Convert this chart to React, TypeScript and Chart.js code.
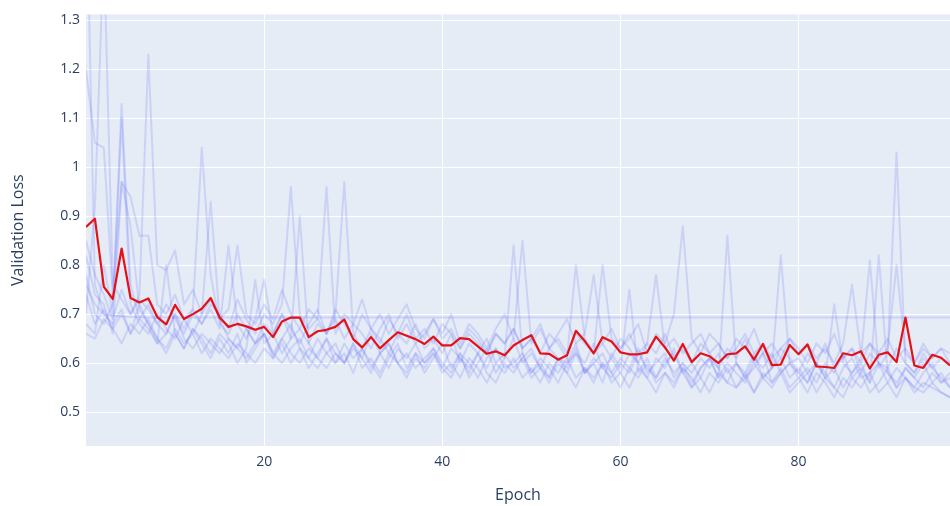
import React, { useEffect, useRef } from "react";
import { Chart, registerables } from "chart.js";

Chart.register(...registerables);

// Epoch index for each logged validation step
const EPOCHS = Array.from({ length: 98 }, (_, i) => i);

// Mean validation loss across the cross-validation runs
const MEAN_LOSS = [
  0.878, 0.895, 0.756, 0.731, 0.834, 0.733, 0.724, 0.732, 0.694, 0.679,
  0.719, 0.690, 0.700, 0.711, 0.733, 0.693, 0.674, 0.680, 0.675, 0.668,
  0.674, 0.653, 0.685, 0.693, 0.693, 0.653, 0.665, 0.668, 0.674, 0.689,
  0.649, 0.632, 0.653, 0.630, 0.647, 0.663, 0.656, 0.649, 0.639, 0.654,
  0.636, 0.636, 0.651, 0.649, 0.634, 0.619, 0.624, 0.616, 0.636, 0.647,
  0.657, 0.620, 0.619, 0.607, 0.616, 0.666, 0.645, 0.620, 0.653, 0.644,
  0.622, 0.618, 0.618, 0.622, 0.654, 0.632, 0.605, 0.639, 0.602, 0.620,
  0.614, 0.600, 0.618, 0.620, 0.634, 0.607, 0.639, 0.596, 0.597, 0.637,
  0.618, 0.638, 0.593, 0.592, 0.590, 0.620, 0.616, 0.624, 0.589, 0.617,
  0.622, 0.602, 0.693, 0.595, 0.590, 0.617, 0.611, 0.595,
];

// Individual runs
const RUN_1 = [
  1.62, 0.76, 0.70, 0.68, 0.71, 0.66, 0.69, 0.67, 0.64, 0.66, 0.70, 0.65, 0.63, 0.66, 0.64, 0.62, 0.65, 0.63, 0.61, 0.64,
  0.66, 0.62, 0.60, 0.63, 0.65, 0.61, 0.59, 0.62, 0.64, 0.60, 0.63, 0.61, 0.58, 0.62, 0.64, 0.60, 0.62, 0.59, 0.61, 0.63,
  0.60, 0.58, 0.62, 0.60, 0.57, 0.61, 0.63, 0.59, 0.60, 0.62, 0.58, 0.61, 0.59, 0.56, 0.60, 0.62, 0.58, 0.61, 0.59, 0.57,
  0.60, 0.58, 0.62, 0.59, 0.57, 0.61, 0.58, 0.60, 0.56, 0.59, 0.61, 0.57, 0.60, 0.58, 0.56, 0.60, 0.57, 0.59, 0.61, 0.57,
  0.59, 0.56, 0.60, 0.58, 0.55, 0.59, 0.61, 0.57, 0.58, 0.60, 0.56, 0.59, 0.57, 0.55, 0.58, 0.60, 0.56, 0.58,
];
const RUN_2 = [
  1.20, 1.05, 1.04, 0.74, 0.97, 0.94, 0.86, 0.86, 0.72, 0.70, 0.74, 0.69, 0.71, 0.68, 0.72, 0.70, 0.67, 0.73, 0.69, 0.66,
  0.70, 0.68, 0.72, 0.96, 0.70, 0.67, 0.69, 0.66, 0.71, 0.68, 0.65, 0.70, 0.67, 0.64, 0.69, 0.66, 0.70, 0.65, 0.67, 0.64,
  0.68, 0.66, 0.63, 0.67, 0.65, 0.62, 0.66, 0.64, 0.67, 0.63, 0.65, 0.62, 0.66, 0.64, 0.61, 0.80, 0.65, 0.62, 0.64, 0.61,
  0.65, 0.63, 0.60, 0.64, 0.62, 0.66, 0.61, 0.63, 0.60, 0.64, 0.62, 0.59, 0.63, 0.61, 0.65, 0.60, 0.62, 0.59, 0.63, 0.61,
  0.58, 0.62, 0.60, 0.64, 0.59, 0.61, 0.63, 0.58, 0.62, 0.60, 0.59, 0.63, 0.60, 0.58, 0.62, 0.59, 0.61, 0.60,
];
const RUN_3 = [
  0.70, 0.92, 1.45, 0.76, 0.73, 0.70, 0.74, 1.23, 0.80, 0.79, 0.83, 0.72, 0.75, 0.70, 0.73, 0.69, 0.71, 0.84, 0.70, 0.68,
  0.72, 0.69, 0.75, 0.70, 0.67, 0.71, 0.69, 0.96, 0.66, 0.70, 0.68, 0.73, 0.67, 0.70, 0.66, 0.69, 0.72, 0.67, 0.65, 0.69,
  0.66, 0.70, 0.64, 0.68, 0.66, 0.63, 0.67, 0.70, 0.65, 0.85, 0.64, 0.67, 0.63, 0.66, 0.69, 0.64, 0.66, 0.78, 0.64, 0.67,
  0.63, 0.65, 0.68, 0.62, 0.66, 0.64, 0.70, 0.88, 0.65, 0.62, 0.66, 0.64, 0.61, 0.65, 0.63, 0.67, 0.62, 0.64, 0.61, 0.65,
  0.63, 0.60, 0.64, 0.62, 0.66, 0.61, 0.63, 0.60, 0.64, 0.62, 0.65, 0.61, 0.63, 0.60, 0.64, 0.61, 0.63, 0.62,
];
const RUN_4 = [
  0.78, 0.70, 0.68, 0.72, 1.13, 0.76, 0.69, 0.72, 0.68, 0.66, 0.70, 0.67, 0.71, 1.04, 0.78, 0.68, 0.66, 0.70, 0.67, 0.64,
  0.68, 0.66, 0.70, 0.65, 0.67, 0.64, 0.68, 0.66, 0.70, 0.97, 0.66, 0.63, 0.67, 0.65, 0.62, 0.66, 0.64, 0.68, 0.63, 0.65,
  0.62, 0.66, 0.60, 0.64, 0.62, 0.59, 0.63, 0.61, 0.65, 0.60, 0.62, 0.59, 0.63, 0.61, 0.58, 0.62, 0.60, 0.64, 0.59, 0.61,
  0.58, 0.62, 0.60, 0.57, 0.61, 0.59, 0.63, 0.58, 0.60, 0.57, 0.61, 0.59, 0.56, 0.60, 0.58, 0.62, 0.57, 0.59, 0.82, 0.60,
  0.58, 0.56, 0.60, 0.57, 0.59, 0.55, 0.58, 0.60, 0.56, 0.82, 0.58, 0.56, 0.59, 0.57, 0.55, 0.58, 0.56, 0.57,
];
const RUN_5 = [
  0.68, 0.66, 0.80, 0.70, 1.10, 0.72, 0.68, 0.66, 0.70, 0.67, 0.65, 0.69, 0.66, 0.70, 0.93, 0.69, 0.65, 0.63, 0.67, 0.64,
  0.66, 0.62, 0.65, 0.68, 0.63, 0.61, 0.65, 0.62, 0.60, 0.64, 0.61, 0.63, 0.59, 0.62, 0.64, 0.60, 0.58, 0.62, 0.60, 0.63,
  0.59, 0.57, 0.61, 0.59, 0.62, 0.58, 0.56, 0.60, 0.58, 0.61, 0.57, 0.59, 0.56, 0.60, 0.58, 0.55, 0.59, 0.57, 0.60, 0.56,
  0.58, 0.55, 0.59, 0.57, 0.54, 0.58, 0.56, 0.59, 0.55, 0.57, 0.54, 0.58, 0.56, 0.55, 0.58, 0.54, 0.57, 0.55, 0.58, 0.54,
  0.56, 0.58, 0.54, 0.57, 0.55, 0.53, 0.57, 0.55, 0.58, 0.54, 0.56, 0.53, 0.57, 0.55, 0.54, 0.56, 0.54, 0.53,
];
// This run collapses to a constant prediction (loss ≈ ln 2)
const RUN_6 = [
  0.760, 0.720, 0.700, 0.697, 0.695, 0.694, 0.6935, 0.6933, 0.6932, 0.6932,
  0.6931, 0.6932, 0.6931, 0.6931, 0.6932, 0.6931, 0.6931, 0.6932, 0.6931, 0.6931,
  0.6932, 0.6931, 0.6931, 0.6931, 0.6932, 0.6931, 0.6931, 0.6932, 0.6931, 0.6931,
  0.6931, 0.6932, 0.6931, 0.6931, 0.6931, 0.6932, 0.6931, 0.6931, 0.6932, 0.6931,
  0.6931, 0.6931, 0.6932, 0.6931, 0.6931, 0.6932, 0.6931, 0.6931, 0.6931, 0.6932,
  0.6931, 0.6931, 0.6932, 0.6931, 0.6931, 0.6931, 0.6932, 0.6931, 0.6931, 0.6932,
  0.6931, 0.6931, 0.6931, 0.6932, 0.6931, 0.6931, 0.6932, 0.6931, 0.6931, 0.6931,
  0.6932, 0.6931, 0.6931, 0.6932, 0.6931, 0.6931, 0.6931, 0.6932, 0.6931, 0.6931,
  0.6932, 0.6931, 0.6931, 0.6931, 0.6932, 0.6931, 0.6931, 0.6932, 0.6931, 0.6931,
  0.6931, 0.6932, 0.6931, 0.6931, 0.6932, 0.6931, 0.6931, 0.6931,
];
const RUN_7 = [
  0.82, 0.74, 0.72, 0.66, 0.97, 0.88, 0.71, 0.68, 0.65, 0.62, 0.66, 0.63, 0.67, 0.64, 0.61, 0.65, 0.62, 0.66, 0.60, 0.63,
  0.66, 0.61, 0.64, 0.60, 0.63, 0.59, 0.62, 0.65, 0.60, 0.62, 0.58, 0.63, 0.60, 0.57, 0.61, 0.64, 0.59, 0.62, 0.58, 0.61,
  0.64, 0.59, 0.62, 0.57, 0.60, 0.63, 0.58, 0.61, 0.84, 0.62, 0.58, 0.60, 0.57, 0.61, 0.59, 0.63, 0.58, 0.60, 0.56, 0.62,
  0.59, 0.75, 0.58, 0.61, 0.57, 0.60, 0.62, 0.58, 0.55, 0.59, 0.61, 0.57, 0.86, 0.60, 0.57, 0.59, 0.62, 0.56, 0.58, 0.60,
  0.57, 0.59, 0.56, 0.60, 0.58, 0.62, 0.57, 0.59, 0.56, 0.60, 0.58, 0.55, 0.59, 0.57, 0.60, 0.56, 0.58, 0.55,
];
const RUN_8 = [
  0.85, 0.78, 0.74, 0.69, 0.75, 0.70, 0.73, 0.71, 0.68, 0.72, 0.69, 0.66, 0.70, 0.68, 0.71, 0.67, 0.84, 0.68, 0.65, 0.69,
  0.77, 0.66, 0.70, 0.67, 0.64, 0.68, 0.71, 0.66, 0.69, 0.65, 0.68, 0.66, 0.63, 0.67, 0.70, 0.65, 0.68, 0.64, 0.66, 0.69,
  0.65, 0.67, 0.63, 0.66, 0.64, 0.62, 0.66, 0.64, 0.67, 0.63, 0.65, 0.68, 0.63, 0.65, 0.62, 0.66, 0.64, 0.62, 0.80, 0.65,
  0.63, 0.66, 0.62, 0.64, 0.78, 0.63, 0.65, 0.62, 0.64, 0.66, 0.62, 0.64, 0.61, 0.63, 0.66, 0.62, 0.64, 0.61, 0.63, 0.65,
  0.62, 0.64, 0.61, 0.63, 0.60, 0.64, 0.76, 0.62, 0.64, 0.61, 0.63, 0.80, 0.62, 0.60, 0.63, 0.61, 0.63, 0.60,
];
const RUN_9 = [
  0.66, 0.65, 0.69, 0.67, 0.64, 0.68, 0.66, 0.69, 0.65, 0.63, 0.67, 0.64, 0.66, 0.62, 0.65, 0.63, 0.61, 0.64, 0.62, 0.60,
  0.63, 0.61, 0.65, 0.62, 0.60, 0.63, 0.61, 0.59, 0.62, 0.60, 0.64, 0.59, 0.61, 0.58, 0.62, 0.60, 0.57, 0.61, 0.59, 0.62,
  0.58, 0.60, 0.57, 0.61, 0.59, 0.56, 0.60, 0.58, 0.61, 0.57, 0.59, 0.56, 0.60, 0.58, 0.61, 0.57, 0.59, 0.56, 0.60, 0.58,
  0.55, 0.59, 0.57, 0.60, 0.56, 0.58, 0.55, 0.59, 0.57, 0.54, 0.58, 0.56, 0.59, 0.55, 0.57, 0.54, 0.58, 0.56, 0.59, 0.55,
  0.57, 0.54, 0.58, 0.56, 0.53, 0.57, 0.55, 0.58, 0.54, 0.56, 0.59, 0.55, 0.57, 0.54, 0.56, 0.55, 0.54, 0.53,
];
const RUN_10 = [
  0.74, 0.68, 0.71, 0.67, 0.70, 0.66, 0.72, 0.68, 0.64, 0.80, 0.66, 0.63, 0.67, 0.65, 0.62, 0.66, 0.64, 0.60, 0.63, 0.77,
  0.64, 0.66, 0.62, 0.65, 0.90, 0.64, 0.61, 0.65, 0.62, 0.60, 0.64, 0.61, 0.66, 0.62, 0.59, 0.63, 0.61, 0.64, 0.60, 0.62,
  0.59, 0.63, 0.61, 0.58, 0.62, 0.65, 0.60, 0.62, 0.59, 0.61, 0.63, 0.59, 0.57, 0.61, 0.60, 0.64, 0.58, 0.60, 0.62, 0.58,
  0.61, 0.59, 0.63, 0.58, 0.60, 0.62, 0.57, 0.60, 0.58, 0.61, 0.59, 0.62, 0.58, 0.60, 0.57, 0.61, 0.59, 0.62, 0.58, 0.60,
  0.61, 0.58, 0.60, 0.57, 0.72, 0.60, 0.58, 0.61, 0.81, 0.59, 0.62, 1.03, 0.60, 0.58, 0.61, 0.59, 0.57, 0.55,
];

const RUNS = [RUN_1, RUN_2, RUN_3, RUN_4, RUN_5, RUN_6, RUN_7, RUN_8, RUN_9, RUN_10];

const X_TICKS = [20, 40, 60, 80];
const Y_TICKS = [0.5, 0.6, 0.7, 0.8, 0.9, 1.0, 1.1, 1.2, 1.3];

const TEXT_COLOR = "#2a3f5f";
const FONT_FAMILY = "'Open Sans', 'Noto Sans', sans-serif";

const plotBackground = {
  id: "plotBackground",
  beforeDraw(chart: any) {
    const { ctx, chartArea: a } = chart;
    ctx.save();
    ctx.fillStyle = "#E5ECF6";
    ctx.fillRect(a.left, a.top, a.right - a.left, a.bottom - a.top);
    ctx.restore();
  },
};

export default function App() {
  const canvasRef = useRef<HTMLCanvasElement>(null);

  useEffect(() => {
    document.body.style.margin = "0";
    const canvas = canvasRef.current;
    if (!canvas) return;

    const chart = new Chart(canvas, {
      type: "line",
      data: {
        labels: EPOCHS,
        datasets: [
          {
            label: "Mean",
            data: MEAN_LOSS,
            borderColor: "rgb(228,18,24)",
            borderWidth: 2.2,
            order: 0,
          },
          ...RUNS.map((run, i) => ({
            label: `Run ${i + 1}`,
            data: run,
            borderColor: "rgba(99,110,250,0.2)",
            borderWidth: 2,
            order: 1,
          })),
        ],
      },
      options: {
        responsive: false,
        animation: false,
        devicePixelRatio: 1,
        layout: { padding: { top: 11, right: 0, bottom: 0, left: 0 } },
        elements: {
          point: { radius: 0, hoverRadius: 0 },
          line: { tension: 0, borderJoinStyle: "round" },
        },
        plugins: {
          legend: { display: false },
          tooltip: { enabled: false },
        },
        scales: {
          x: {
            type: "linear",
            min: 0,
            max: 97,
            afterBuildTicks: (scale: any) => {
              scale.ticks = X_TICKS.map((v) => ({ value: v }));
            },
            afterFit: (scale: any) => {
              scale.height = 60;
            },
            grid: { color: "#ffffff", lineWidth: 1, drawTicks: false },
            border: { display: false },
            ticks: {
              padding: 8,
              color: TEXT_COLOR,
              font: { family: FONT_FAMILY, size: 14 },
              maxRotation: 0,
            },
            title: {
              display: true,
              text: "Epoch",
              color: TEXT_COLOR,
              font: { family: FONT_FAMILY, size: 16 },
              padding: { top: 0, bottom: 1.4 },
            },
          },
          y: {
            type: "linear",
            min: 0.4306,
            max: 1.3124,
            afterBuildTicks: (scale: any) => {
              scale.ticks = Y_TICKS.map((v) => ({ value: v }));
            },
            afterFit: (scale: any) => {
              scale.width = 86;
            },
            grid: { color: "#ffffff", lineWidth: 1, drawTicks: false },
            border: { display: false },
            ticks: {
              padding: 6,
              color: TEXT_COLOR,
              font: { family: FONT_FAMILY, size: 14 },
              callback: (v: any) => String(Number(Number(v).toFixed(1))),
            },
            title: {
              display: true,
              text: "Validation Loss",
              color: TEXT_COLOR,
              font: { family: FONT_FAMILY, size: 16 },
              padding: { top: 8.4, bottom: 0 },
            },
          },
        },
      },
      plugins: [plotBackground],
    });

    return () => chart.destroy();
  }, []);

  return (
    <canvas
      ref={canvasRef}
      width={950}
      height={506}
      style={{ display: "block", width: 950, height: 506 }}
    />
  );
}
